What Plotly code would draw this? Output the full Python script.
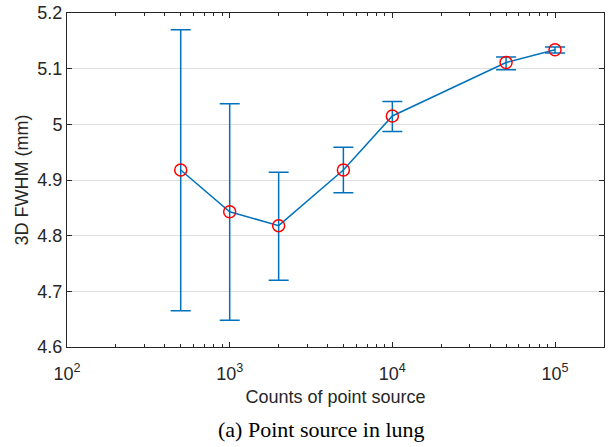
import plotly.graph_objects as go
import math

counts = [500, 1000, 2000, 5000, 10000, 50000, 100000]
fwhm = [4.918, 4.843, 4.818, 4.918, 5.015, 5.111, 5.134]
err_upper = [5.170, 5.037, 4.914, 4.959, 5.041, 5.121, 5.139]
err_lower = [4.665, 4.648, 4.720, 4.877, 4.987, 5.098, 5.128]

x_tickvals = [100, 1000, 10000, 100000]
x_ticktext = ["10<sup>2</sup>", "10<sup>3</sup>", "10<sup>4</sup>", "10<sup>5</sup>"]
y_tickvals = [4.6, 4.7, 4.8, 4.9, 5.0, 5.1, 5.2]
y_ticktext = ["4.6", "4.7", "4.8", "4.9", "5", "5.1", "5.2"]

minor_vals = [m * 10 ** e for e in range(2, 6) for m in range(2, 10) if m * 10 ** e <= 200000]

blue = "#0072BD"
fig = go.Figure()
fig.add_trace(go.Scatter(
    x=counts, y=fwhm, mode="lines",
    line=dict(color=blue, width=1.5),
    error_y=dict(type="data", symmetric=False,
                 array=[u - v for u, v in zip(err_upper, fwhm)],
                 arrayminus=[v - l for v, l in zip(fwhm, err_lower)],
                 color=blue, thickness=1.5, width=10),
    showlegend=False, hoverinfo="skip"))
fig.add_trace(go.Scatter(
    x=counts, y=fwhm, mode="markers",
    marker=dict(symbol="circle-open", size=12, color="#FF0000", line=dict(width=1.5, color="#FF0000")),
    showlegend=False))

axcol = "#262626"
fig.update_layout(
    width=608, height=447,
    margin=dict(l=67, r=3, t=11, b=100),
    plot_bgcolor="white", paper_bgcolor="white",
    font=dict(family="Liberation Sans, Arial, sans-serif", color=axcol),
    xaxis=dict(type="log", range=[2, math.log10(2e5)],
               tickvals=x_tickvals, ticktext=x_ticktext,
               ticks="inside", ticklen=5, tickcolor=axcol, tickwidth=1,
               ticklabelstandoff=10,
               minor=dict(tickvals=minor_vals, ticks="inside", ticklen=3, tickcolor=axcol, showgrid=False),
               showline=True, linecolor=axcol, linewidth=1, mirror="ticks",
               showgrid=False, zeroline=False,
               tickfont=dict(size=18, color=axcol),
               title=dict(text="Counts of point source", font=dict(size=18, color=axcol), standoff=7)),
    yaxis=dict(range=[4.6, 5.2], tickvals=y_tickvals, ticktext=y_ticktext,
               ticks="inside", ticklen=5, tickcolor=axcol,
               showline=True, linecolor=axcol, linewidth=1, mirror="ticks",
               showgrid=True, gridcolor="#DFDFDF", gridwidth=1, zeroline=False,
               tickfont=dict(size=18, color=axcol),
               title=dict(text="3D FWHM (mm)", font=dict(size=18, color=axcol), standoff=4)),
    annotations=[dict(text="(a) Point source in lung", xref="paper", yref="paper",
                      x=0.474, y=-0.247, xanchor="center", yanchor="middle", showarrow=False,
                      font=dict(family="Liberation Serif, Times New Roman, serif", size=22, color="black"))],
)
fig.write_html("out.html")
